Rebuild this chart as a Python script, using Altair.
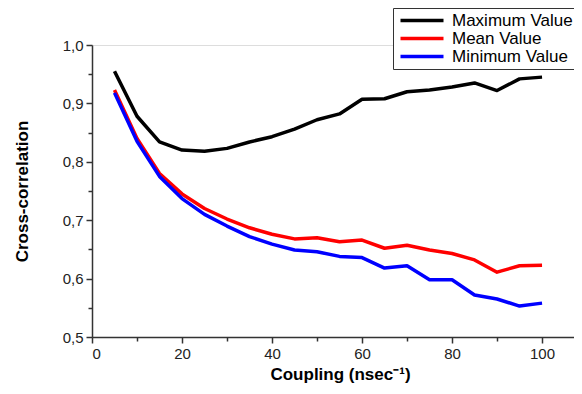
import altair as alt
import pandas as pd

coupling = [5, 10, 15, 20, 25, 30, 35, 40, 45, 50, 55, 60, 65, 70, 75, 80, 85, 90, 95, 100]
max_value = [0.955, 0.878, 0.834, 0.820, 0.818, 0.823, 0.834, 0.843, 0.856, 0.872, 0.882, 0.907, 0.908, 0.920, 0.923, 0.928, 0.935, 0.922, 0.942, 0.945]
mean_value = [0.923, 0.840, 0.780, 0.745, 0.720, 0.702, 0.687, 0.676, 0.668, 0.670, 0.663, 0.666, 0.652, 0.657, 0.649, 0.643, 0.632, 0.611, 0.622, 0.623]
min_value = [0.918, 0.835, 0.775, 0.737, 0.710, 0.690, 0.672, 0.659, 0.649, 0.646, 0.638, 0.636, 0.618, 0.622, 0.598, 0.598, 0.572, 0.565, 0.553, 0.558]
series = ["Maximum Value", "Mean Value", "Minimum Value"]
colors = ["#000000", "#ff0000", "#0000ff"]
x_ticks = [0, 10, 20, 30, 40, 50, 60, 70, 80, 90, 100]
y_ticks = [0.5, 0.55, 0.6, 0.65, 0.7, 0.75, 0.8, 0.85, 0.9, 0.95, 1.0]

rows = []
for name, vals in zip(series, [max_value, mean_value, min_value]):
    for c, v in zip(coupling, vals):
        rows.append({"Coupling": c, "Value": v, "Series": name})
df = pd.DataFrame(rows)

FONT = "Liberation Sans"

chart = alt.Chart(df).mark_line(strokeWidth=3.5, strokeJoin="round").encode(
    x=alt.X("Coupling:Q",
            scale=alt.Scale(domain=[0, 107.1], nice=False, zero=False),
            axis=alt.Axis(
                values=x_ticks,
                title="Coupling (nsec⁻¹)",
                labelExpr="datum.value % 20 == 0 ? datum.label : ''",
                grid=False, domainColor="#333", domainWidth=1.5,
                tickColor="#333", tickWidth=1.5,
                tickSize={"condition": {"test": "datum.value % 20 == 0", "value": 6}, "value": 4},
                labelFont=FONT, labelFontSize=15, labelColor="#222", labelPadding=3,
                titleFont=FONT, titleFontSize=17, titleFontWeight="bold", titleColor="#000",
                titleX=248, titleY=37, titleBaseline="middle", titleAlign="center",
            )),
    y=alt.Y("Value:Q",
            scale=alt.Scale(domain=[0.5, 1.0], nice=False, zero=False),
            axis=alt.Axis(
                values=y_ticks,
                title="Cross-correlation",
                labelExpr="abs(datum.value*10 - round(datum.value*10)) < 0.01 ? replace(format(datum.value, '.1f'), '.', ',') : ''",
                grid=False, domainColor="#333", domainWidth=1.5,
                tickColor="#333", tickWidth=1.5,
                tickSize={"condition": {"test": "abs(datum.value*10 - round(datum.value*10)) < 0.01", "value": 6}, "value": 4},
                labelFont=FONT, labelFontSize=15, labelColor="#222", labelPadding=3,
                titleFont=FONT, titleFontSize=17, titleFontWeight="bold", titleColor="#000",
                titleX=-70, titleY=146, titleAngle=-90, titleBaseline="middle", titleAlign="center",
            )),
    color=alt.Color("Series:N",
                    scale=alt.Scale(domain=series, range=colors),
                    legend=alt.Legend(
                        orient="none", legendX=301, legendY=-37,
                        title=None, symbolType="M-1,0H7.6", symbolStrokeWidth=3.5,
                        symbolSize=100, labelFont=FONT, labelFontSize=17, labelColor="#000",
                        strokeColor="#333", fillColor="white", padding=4,
                        rowPadding=0, labelOffset=38, cornerRadius=0,
                    )),
).properties(
    width=482, height=292,
    padding={"left": 84, "top": 37, "right": 0, "bottom": 49},
    autosize="none",
).configure_view(stroke=None).configure(background="white")

chart.save("out.html", embed_options={"renderer": "svg", "actions": False})
